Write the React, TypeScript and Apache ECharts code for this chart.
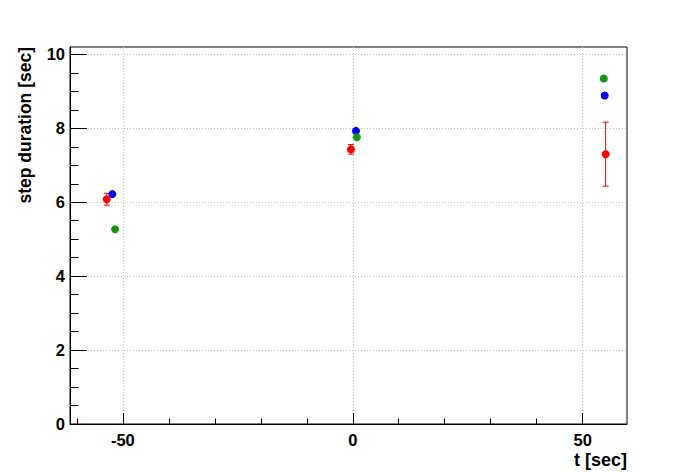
import React, { useEffect, useRef } from "react";
import * as echarts from "echarts";

const redX = [-53.5, -0.4, 55.0];
const redY = [6.08, 7.43, 7.3];
const redErr = [0.16, 0.13, 0.865];
const blueX = [-52.3, 0.7, 54.8];
const blueY = [6.22, 7.93, 8.89];
const greenX = [-51.7, 0.9, 54.6];
const greenY = [5.27, 7.76, 9.35];

const xMajor = [-50, 0, 50];
const xMinor = [-60, -40, -30, -20, -10, 10, 20, 30, 40];
const yMajor = [0, 2, 4, 6, 8, 10];
const yMinor = [0.5, 1, 1.5, 2.5, 3, 3.5, 4.5, 5, 5.5, 6.5, 7, 7.5, 8.5, 9, 9.5, 10];

const X_MIN = -61.5;
const X_MAX = 59.65;
const Y_MIN = 0;
const Y_MAX = 10.2;

const FONT = "'Liberation Sans', Arial, sans-serif";
const gridLine = { show: true, lineStyle: { color: "#c4c4c4", width: 1, type: [1, 2] as any } };

export default function App() {
  const ref = useRef<HTMLDivElement>(null);
  useEffect(() => {
    if (!ref.current) return;
    const chart = echarts.init(ref.current, undefined, { renderer: "svg" });
    const pts = (xs: number[], ys: number[]) => xs.map((x, i) => [x, ys[i]]);
    chart.setOption({
      animation: false,
      backgroundColor: "#fff",
      grid: { left: 70, right: 69, top: 47, bottom: 48, show: true, borderColor: "#000", borderWidth: 1 },
      xAxis: [
        {
          type: "value", min: X_MIN, max: X_MAX, position: "bottom",
          axisLine: { show: true, onZero: false, lineStyle: { color: "#000", width: 1 } },
          axisTick: { show: true, inside: true, length: 11, customValues: xMajor, lineStyle: { color: "#000" } },
          axisLabel: { show: true, customValues: xMajor, margin: 7, color: "#000", fontSize: 16.5, fontWeight: "bold", fontFamily: FONT },
          splitLine: gridLine,
        },
        {
          type: "value", min: X_MIN, max: X_MAX, position: "bottom",
          axisLine: { show: false, onZero: false },
          axisTick: { show: true, inside: true, length: 5.5, customValues: xMinor, lineStyle: { color: "#000" } },
          axisLabel: { show: false },
          splitLine: { show: false },
        },
      ],
      yAxis: [
        {
          type: "value", min: Y_MIN, max: Y_MAX, position: "left",
          axisLine: { show: true, onZero: false, lineStyle: { color: "#000", width: 1 } },
          axisTick: { show: true, inside: true, length: 17, customValues: yMajor, lineStyle: { color: "#000" } },
          axisLabel: { show: true, customValues: yMajor, margin: 5, color: "#000", fontSize: 16.5, fontWeight: "bold", fontFamily: FONT },
          splitLine: gridLine,
        },
        {
          type: "value", min: Y_MIN, max: Y_MAX, position: "left",
          axisLine: { show: false, onZero: false },
          axisTick: { show: true, inside: true, length: 8.5, customValues: yMinor, lineStyle: { color: "#000" } },
          axisLabel: { show: false },
          splitLine: { show: false },
        },
      ],
      graphic: [
        {
          type: "text", x: 25, y: 47, rotation: Math.PI / 2,
          style: { text: "step duration [sec]", fill: "#000", font: `bold 17.5px ${FONT}`, textAlign: "right", textVerticalAlign: "middle" },
        },
        {
          type: "text", x: 627, y: 460,
          style: { text: "t [sec]", fill: "#000", font: `bold 18px ${FONT}`, textAlign: "right", textVerticalAlign: "middle" },
        },
      ],
      series: [
        {
          type: "custom", xAxisIndex: 0, yAxisIndex: 0, z: 3,
          data: redX.map((x, i) => [x, redY[i], redErr[i]]),
          renderItem: (params: any, api: any) => {
            const x = api.value(0), y = api.value(1), e = api.value(2);
            const t = api.coord([x, y + e]);
            const b = api.coord([x, y - e]);
            const st = { stroke: "#ff0000", lineWidth: 1 };
            return {
              type: "group",
              children: [
                { type: "line", shape: { x1: t[0], y1: t[1], x2: b[0], y2: b[1] }, style: st },
                { type: "line", shape: { x1: t[0] - 3, y1: t[1], x2: t[0] + 3, y2: t[1] }, style: st },
                { type: "line", shape: { x1: b[0] - 3, y1: b[1], x2: b[0] + 3, y2: b[1] }, style: st },
              ],
            };
          },
        },
        { type: "scatter", xAxisIndex: 0, yAxisIndex: 0, symbol: "circle", symbolSize: 8, itemStyle: { color: "#0000ff", opacity: 1 }, data: pts(blueX, blueY), z: 4 },
        { type: "scatter", xAxisIndex: 0, yAxisIndex: 0, symbol: "circle", symbolSize: 8, itemStyle: { color: "#109910", opacity: 1 }, data: pts(greenX, greenY), z: 4 },
        { type: "scatter", xAxisIndex: 0, yAxisIndex: 0, symbol: "circle", symbolSize: 8, itemStyle: { color: "#ff0000", opacity: 1 }, data: pts(redX, redY), z: 5 },
      ],
    });
    return () => chart.dispose();
  }, []);
  return <div ref={ref} style={{ position: "fixed", left: 0, top: 0, width: 696, height: 472 }} />;
}
